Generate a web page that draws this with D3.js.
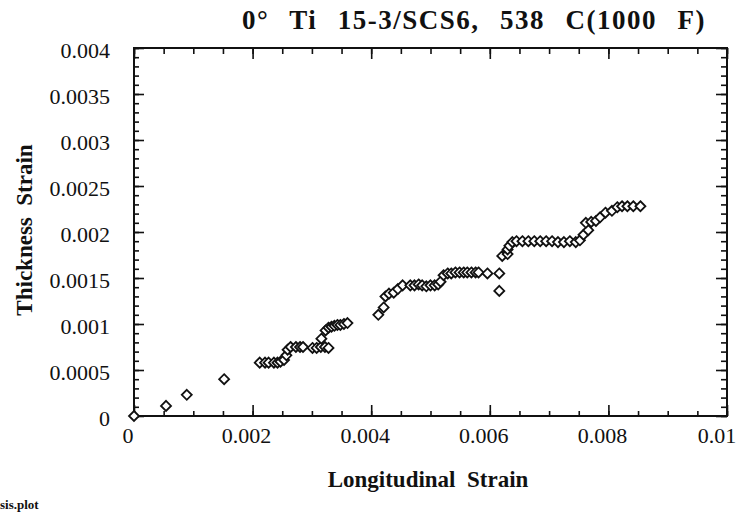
<!DOCTYPE html>
<html><head><meta charset="utf-8">
<script src="https://cdn.jsdelivr.net/npm/d3@7"></script>
<style>
html,body{margin:0;padding:0;background:#fff;}
text{font-family:"Liberation Serif","Times New Roman",serif;white-space:pre;}
</style></head>
<body>
<svg id="chart" width="737" height="517"></svg>
<script>
// Data (longitudinal strain, thickness strain)
const longStrain = [0,0.00054,0.00089,0.00152,
 0.00212,0.00221,0.00227,0.00236,0.00242,0.00247,0.00253,0.00257,0.00259,
 0.00264,0.00273,0.00280,0.00285,0.00301,0.00308,0.00315,0.00316,0.00322,0.00328,
 0.00323,0.00328,0.00333,0.00338,0.00343,0.00348,0.00354,0.00360,
 0.00412,0.00421,0.00424,0.00430,0.00438,0.00445,0.00453,0.00466,0.00473,0.00480,0.00486,0.00493,0.00500,0.00507,0.00513,0.00517,0.00522,
 0.00529,0.00535,0.00542,0.00549,0.00556,0.00562,0.00569,0.00576,0.00581,0.00596,0.00616,0.00616,
 0.00621,0.00630,0.00630,0.00633,0.00638,0.00645,0.00655,0.00665,0.00675,0.00685,0.00695,0.00705,0.00715,0.00725,0.00735,0.00745,
 0.00752,0.00758,0.00766,0.00762,0.00771,0.00779,0.00786,0.00795,0.00806,0.00815,0.00823,0.00832,0.00842,0.00854];
const thickStrain = [0,0.00011,0.00023,0.00040,
 0.00058,0.00058,0.00058,0.00058,0.00058,0.00059,0.00061,0.00066,0.00072,
 0.00075,0.00075,0.00075,0.00075,0.00074,0.00074,0.00075,0.00084,0.00075,0.00074,
 0.00093,0.00096,0.00097,0.00098,0.00099,0.00099,0.00100,0.00101,
 0.00110,0.00118,0.00130,0.00133,0.00134,0.00138,0.00142,0.00142,0.00142,0.00143,0.00142,0.00141,0.00142,0.00142,0.00143,0.00146,0.00153,
 0.00155,0.00155,0.00156,0.00156,0.00156,0.00156,0.00156,0.00156,0.00156,0.00155,0.00155,0.00136,
 0.00174,0.00176,0.00181,0.00185,0.00189,0.00190,0.00190,0.00190,0.00190,0.00190,0.00190,0.00190,0.00189,0.00189,0.00190,0.00189,
 0.00191,0.00197,0.00202,0.00210,0.00211,0.00212,0.00216,0.00221,0.00223,0.00227,0.00228,0.00228,0.00228,0.00228];
const xTickValues = [0,0.002,0.004,0.006,0.008,0.01];
const xTickLabels = ["0","0.002","0.004","0.006","0.008","0.01"];
const yTickValues = [0,0.0005,0.001,0.0015,0.002,0.0025,0.003,0.0035,0.004];
const yTickLabels = ["0","0.0005","0.001","0.0015","0.002","0.0025","0.003","0.0035","0.004"];
const titleText = "0°  Ti  15-3/SCS6,  538  C(1000  F)";
const xTitle = "Longitudinal  Strain";
const yTitle = "Thickness  Strain";
const footText = "sis.plot";

const svg = d3.select("#chart");
const L=134, R=727, T=48, B=416;
const x = d3.scaleLinear().domain([0,0.01]).range([L,R]);
const y = d3.scaleLinear().domain([0,0.004]).range([B,T]);
const ink = "#111";

// minor + major ticks (inward)
function ticks(axisGen, transform, major, minor, majLen, minLen){
  const g1 = svg.append("g").attr("transform",transform)
    .call(axisGen.tickValues(minor).tickSize(-minLen).tickFormat(""));
  const g2 = svg.append("g").attr("transform",transform)
    .call(axisGen.tickValues(major).tickSize(-majLen).tickFormat(""));
  [g1,g2].forEach(g=>{g.select(".domain").remove(); g.selectAll("line").attr("stroke",ink).attr("stroke-width",1.6);});
}
const xMinor = d3.range(0,0.01+1e-9,0.0005);
const yMinor = d3.range(0,0.004+1e-9,0.0001);
ticks(d3.axisBottom(x), `translate(0,${B})`, xTickValues, xMinor, 11, 5);
ticks(d3.axisTop(x), `translate(0,${T})`, xTickValues, xMinor, 11, 6);
ticks(d3.axisLeft(y), `translate(${L},0)`, yTickValues, yMinor, 10, 5);
ticks(d3.axisRight(y), `translate(${R},0)`, yTickValues, yMinor, 11, 6);

svg.append("rect").attr("x",L).attr("y",T).attr("width",R-L).attr("height",B-T)
  .attr("fill","none").attr("stroke",ink).attr("stroke-width",2);

// tick labels
svg.append("g").selectAll("text").data(xTickValues).join("text")
  .attr("x",(d,i)=>x(d)-(i===xTickValues.length-1?10:6)).attr("y",443).attr("text-anchor","middle")
  .attr("font-size",22).attr("fill",ink).text((d,i)=>xTickLabels[i]);
svg.append("g").selectAll("text").data(yTickValues).join("text")
  .attr("x",110).attr("y",d=>y(d)+10).attr("text-anchor","end")
  .attr("font-size",22).attr("fill",ink).text((d,i)=>yTickLabels[i]);

// titles
svg.append("text").attr("x",474).attr("y",29).attr("text-anchor","middle")
  .attr("font-size",27).attr("font-weight","bold").attr("letter-spacing",1.5).attr("word-spacing",2)
  .attr("fill",ink).text(titleText);
svg.append("text").attr("x",428).attr("y",487).attr("text-anchor","middle")
  .attr("font-size",23).attr("font-weight","bold").attr("fill",ink).text(xTitle);
svg.append("text").attr("transform","translate(32,230) rotate(-90)").attr("text-anchor","middle")
  .attr("font-size",23).attr("font-weight","bold").attr("fill",ink).text(yTitle);
svg.append("text").attr("x",0).attr("y",509).attr("font-size",13).attr("font-weight","bold")
  .attr("fill",ink).text(footText);

// diamonds
const diamond = {draw(ctx,size){const r=Math.sqrt(size/2);ctx.moveTo(0,-r);ctx.lineTo(r,0);ctx.lineTo(0,r);ctx.lineTo(-r,0);ctx.closePath();}};
svg.append("g").selectAll("path").data(longStrain.map((v,i)=>[v,thickStrain[i]])).join("path")
  .attr("transform",d=>`translate(${x(d[0])},${y(d[1])})`)
  .attr("d",d3.symbol().type(diamond).size(50))
  .attr("fill","#fff").attr("stroke",ink).attr("stroke-width",1.8);
</script>
</body></html>
